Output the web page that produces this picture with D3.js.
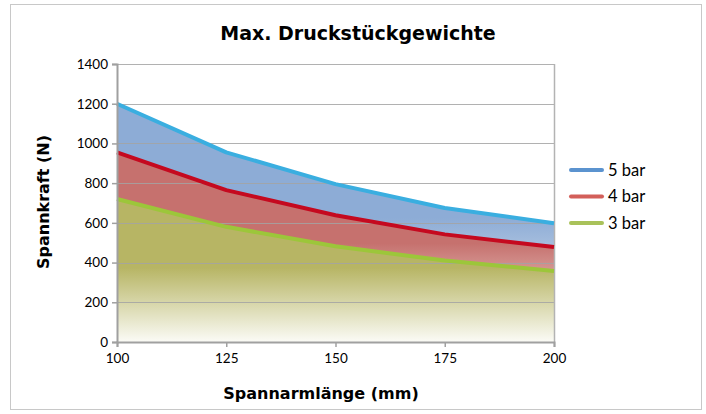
<!DOCTYPE html>
<html>
<head>
<meta charset="utf-8">
<script src="https://cdn.jsdelivr.net/npm/d3@7"></script>
<style>
  html, body { margin: 0; padding: 0; background: #fff; }
  svg { display: block; font-family: "Lato", "Open Sans", sans-serif; }
  .heading { font-family: "DejaVu Sans", sans-serif; font-weight: bold; }
</style>
</head>
<body>
<svg id="chart" width="706" height="414"></svg>
<script>
// Spannarmlänge in mm
const lengths = [100, 125, 150, 175, 200];
// Spannkraft in N je Betriebsdruck
const force5bar = [1200, 955, 795, 675, 598];
const force4bar = [955, 765, 638, 542, 478];
const force3bar = [720, 580, 482, 410, 358];
const yTicks = [0, 200, 400, 600, 800, 1000, 1200, 1400];
const xTicks = [100, 125, 150, 175, 200];

const series = [
  { name: "5 bar", values: force5bar, fill: "#8dacd6", line: "#3aaee0", legend: "#5b93cf" },
  { name: "4 bar", values: force4bar, fill: "#c6716e", line: "#c5091f", legend: "#d35f5a" },
  { name: "3 bar", values: force3bar, fill: "#b7b564", line: "#9cc63a", legend: "#a9c25a" }
];

const svg = d3.select("#chart");
const W = 706, H = 414;
const m = { left: 117, right: 152, top: 64, bottom: 72 };
const pw = W - m.left - m.right, ph = H - m.top - m.bottom;

// outer frame
svg.append("rect").attr("x", 10.5).attr("y", 4.5).attr("width", 691).attr("height", 405)
  .attr("fill", "#fff").attr("stroke", "#c8c8c8").attr("stroke-width", 1);

const x = d3.scaleLinear().domain([100, 200]).range([m.left, m.left + pw]);
const y = d3.scaleLinear().domain([0, 1400]).range([m.top + ph, m.top]);

// vertical fade of each area toward white at its base
const defs = svg.append("defs");
series.forEach((s, i) => {
  const g = defs.append("linearGradient").attr("id", "grad" + i)
    .attr("x1", 0).attr("y1", 0).attr("x2", 0).attr("y2", 1);
  g.append("stop").attr("offset", "0%").attr("stop-color", s.fill);
  g.append("stop").attr("offset", "48%").attr("stop-color", s.fill);
  g.append("stop").attr("offset", "100%").attr("stop-color", "#fbfbf6");
});

const area = d3.area().x(d => x(d[0])).y0(y(0)).y1(d => y(d[1]));
const line = d3.line().x(d => x(d[0])).y(d => y(d[1]));

series.forEach((s, i) => {
  const pts = lengths.map((l, j) => [l, s.values[j]]);
  svg.append("path").datum(pts).attr("d", area).attr("fill", `url(#grad${i})`);
});

// gridlines
svg.append("g").selectAll("line").data(yTicks.filter(t => t > 0)).join("line")
  .attr("x1", m.left).attr("x2", m.left + pw)
  .attr("y1", d => Math.round(y(d)) + 0.5).attr("y2", d => Math.round(y(d)) + 0.5)
  .attr("stroke", "#a3a3a3").attr("stroke-opacity", 0.85).attr("stroke-width", 1.2);

// right border of plot area
svg.append("line").attr("x1", m.left + pw + 0.5).attr("x2", m.left + pw + 0.5)
  .attr("y1", m.top).attr("y2", m.top + ph).attr("stroke", "#b3b3b3").attr("stroke-width", 1.5);

// series lines
series.forEach(s => {
  const pts = lengths.map((l, j) => [l, s.values[j]]);
  svg.append("path").datum(pts).attr("d", line).attr("fill", "none")
    .attr("stroke", s.line).attr("stroke-width", 4).attr("stroke-linejoin", "round");
});

// axes
const xAxis = svg.append("g").attr("transform", `translate(0,${m.top + ph})`)
  .call(d3.axisBottom(x).tickValues(xTicks).tickSize(5).tickPadding(6).tickFormat(d3.format("d")));
const yAxis = svg.append("g").attr("transform", `translate(${m.left},0)`)
  .call(d3.axisLeft(y).tickValues(yTicks).tickSize(5).tickPadding(4).tickFormat(d3.format("d")));
[xAxis, yAxis].forEach(a => {
  a.select(".domain").attr("stroke", "#a0a0a0").attr("stroke-width", 2);
  a.selectAll(".tick line").attr("stroke", "#a0a0a0").attr("stroke-width", 1.5);
  a.selectAll("text").attr("fill", "#000").attr("font-size", 13.5)
    .attr("font-family", "Lato, sans-serif");
});

// titles
svg.append("text").attr("class", "heading").attr("x", 358).attr("y", 40).attr("text-anchor", "middle")
  .attr("font-size", 19).text("Max. Druckstückgewichte");
svg.append("text").attr("class", "heading").attr("x", 321).attr("y", 399).attr("text-anchor", "middle")
  .attr("font-size", 16).text("Spannarmlänge (mm)");
svg.append("text").attr("class", "heading").attr("transform", "translate(49,202) rotate(-90)")
  .attr("text-anchor", "middle").attr("font-size", 16).text("Spannkraft (N)");

// legend
const lg = svg.append("g").attr("transform", "translate(571,170)");
series.forEach((s, i) => {
  const row = lg.append("g").attr("transform", `translate(0,${i * 26.5})`);
  row.append("line").attr("x1", 0).attr("x2", 31).attr("y1", 0).attr("y2", 0)
    .attr("stroke", s.legend).attr("stroke-width", 4).attr("stroke-linecap", "round");
  row.append("text").attr("x", 37).attr("y", 5.5).attr("font-size", 16.5).text(s.name);
});
</script>
</body>
</html>
